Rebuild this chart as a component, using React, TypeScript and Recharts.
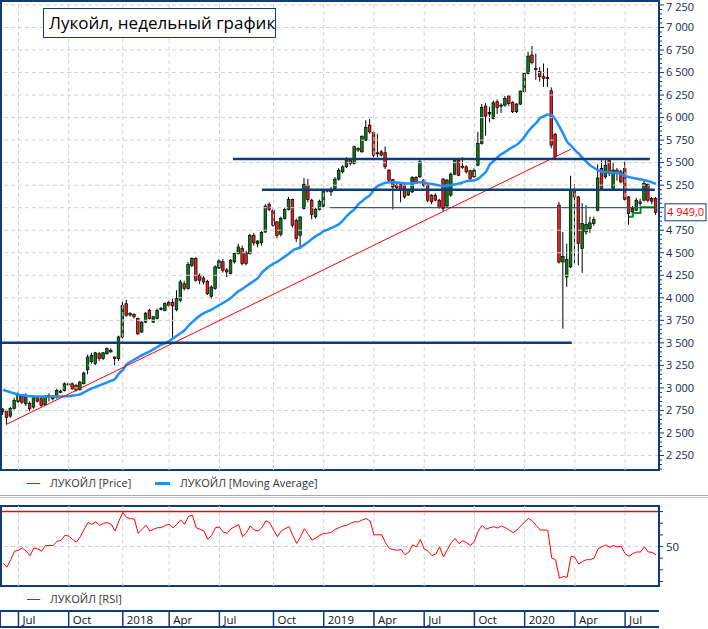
import React from "react";
import {
  ComposedChart,
  Bar,
  Line,
  XAxis,
  YAxis,
  ReferenceLine,
  ReferenceArea,
} from "recharts";

// weekly candles, one entry per week (first week = early June 2017)
const opens = [
  2735, 2750, 2687, 2772, 2850, 2905, 2824, 2830, 2787, 2890, 2880, 2813, 2900, 2880, 2898, 2950, 2972, 3040, 3046, 3030,
  2980, 3046, 3202, 3290, 3270, 3380, 3325, 3380, 3417, 3343, 3324, 3565, 3935, 3810, 3815, 3770, 3620, 3730, 3860, 3730,
  3770, 3870, 3860, 3950, 3950, 3868, 3972, 4157, 4102, 4360, 4435, 4250, 4220, 4183, 4017, 4102, 4330, 4400, 4310, 4270,
  4400, 4490, 4546, 4500, 4490, 4690, 4600, 4610, 4730, 5035, 4972, 4843, 4705, 4880, 4980, 5090, 4860, 4694, 4990, 5250,
  5083, 4900, 4980, 5017, 5190, 5176, 5213, 5317, 5398, 5454, 5528, 5490, 5657, 5620, 5750, 5917, 5835, 5609, 5620, 5610,
  5416, 5310, 5250, 5260, 5250, 5140, 5176, 5336, 5343, 5306, 5250, 5139, 5139, 5083, 5317, 5020, 5140, 5372, 5528, 5460,
  5454, 5410, 5343, 5472, 5713, 6128, 6040, 5990, 6176, 6130, 6139, 6240, 6170, 6065, 6150, 6287, 6491, 6694, 6546, 6510,
  6454, 6445, 6298, 5813, 5028, 4398, 4231, 4343, 5194, 5120, 4546, 4731, 4769, 4824, 4972, 5435, 5343, 5528, 5213, 5417,
  5398, 5435, 5120, 4954, 4972, 5065, 5083, 5257, 5102, 5102,
];
const highs = [
  2775, 2760, 2790, 2890, 2960, 2930, 2940, 2850, 2920, 2910, 2900, 2920, 2940, 2920, 2990, 2980, 3060, 3060, 3060, 3040,
  3080, 3180, 3370, 3390, 3400, 3400, 3400, 3450, 3440, 3350, 3580, 3960, 3980, 3840, 3830, 3780, 3740, 3840, 3880, 3800,
  3880, 3900, 3950, 3970, 3990, 4083, 4200, 4190, 4400, 4450, 4450, 4270, 4240, 4200, 4140, 4360, 4430, 4430, 4330, 4430,
  4500, 4600, 4580, 4520, 4710, 4720, 4640, 4740, 5040, 5060, 4990, 4850, 4900, 5000, 5120, 5100, 4880, 4900, 5330, 5320,
  5100, 5000, 5090, 5200, 5200, 5230, 5340, 5440, 5470, 5560, 5550, 5690, 5670, 5800, 5970, 5983, 5850, 5820, 5640, 5680,
  5430, 5320, 5280, 5270, 5280, 5210, 5350, 5350, 5530, 5320, 5260, 5150, 5160, 5100, 5330, 5320, 5390, 5550, 5540, 5560,
  5470, 5420, 5440, 5842, 6150, 6160, 6120, 6190, 6200, 6160, 6240, 6250, 6180, 6160, 6300, 6500, 6730, 6794, 6710, 6560,
  6600, 6550, 6335, 5830, 5065, 4731, 4600, 5354, 5261, 5130, 5050, 5030, 4900, 4900, 5480, 5528, 5528, 5540, 5500, 5440,
  5420, 5510, 5130, 5020, 5110, 5100, 5300, 5270, 5120, 5120,
];
const lows = [
  2700, 2594, 2670, 2760, 2830, 2820, 2800, 2740, 2770, 2840, 2790, 2800, 2850, 2860, 2880, 2940, 2960, 3030, 2980, 2960,
  2970, 3040, 3150, 3270, 3250, 3300, 3310, 3370, 3390, 3250, 3300, 3550, 3790, 3790, 3770, 3590, 3610, 3720, 3760, 3720,
  3760, 3860, 3850, 3900, 3560, 3850, 3950, 4080, 4090, 4340, 4180, 4150, 4150, 4030, 3990, 4090, 4320, 4280, 4230, 4260,
  4380, 4480, 4360, 4360, 4480, 4580, 4560, 4580, 4720, 4960, 4790, 4660, 4680, 4870, 4970, 4780, 4620, 4546, 4980, 5060,
  4870, 4880, 4970, 5000, 5170, 5130, 5200, 5300, 5380, 5440, 5470, 5480, 5620, 5610, 5740, 5820, 5560, 5560, 5570, 5430,
  5280, 4980, 5200, 5060, 5100, 5130, 5160, 5270, 5330, 5230, 5060, 5040, 5070, 4990, 4960, 5000, 5120, 5360, 5350, 5430,
  5380, 5300, 5330, 5460, 5700, 5800, 5950, 5980, 6040, 6050, 6120, 6130, 6050, 6050, 6140, 6280, 6480, 6590, 6420, 6400,
  6340, 6340, 5660, 5545, 4380, 3657, 4120, 4330, 4380, 4360, 4276, 4700, 4720, 4800, 4960, 5190, 5320, 5350, 5200, 5300,
  5270, 5080, 4810, 4900, 4960, 5020, 5070, 5060, 5040, 4920,
];
const closes = [
  2765, 2672, 2772, 2861, 2920, 2842, 2917, 2768, 2898, 2853, 2805, 2905, 2915, 2900, 2972, 2965, 3046, 3045, 2990, 2975,
  3064, 3165, 3343, 3360, 3390, 3325, 3390, 3435, 3400, 3325, 3565, 3917, 3805, 3825, 3790, 3600, 3730, 3830, 3770, 3790,
  3860, 3880, 3935, 3915, 3910, 3991, 4176, 4102, 4369, 4435, 4195, 4195, 4176, 4046, 4120, 4343, 4410, 4306, 4287, 4417,
  4491, 4565, 4380, 4380, 4690, 4610, 4630, 4724, 5017, 4980, 4806, 4694, 4880, 4980, 5090, 4806, 4657, 4898, 5260, 5090,
  4924, 4983, 5072, 5187, 5195, 5200, 5317, 5416, 5454, 5528, 5490, 5676, 5640, 5794, 5890, 5842, 5583, 5601, 5583, 5454,
  5306, 5231, 5224, 5194, 5120, 5194, 5336, 5287, 5509, 5250, 5083, 5065, 5083, 5000, 4990, 5306, 5372, 5528, 5360, 5450,
  5398, 5324, 5416, 5713, 6113, 6017, 6057, 6165, 6113, 6139, 6213, 6157, 6065, 6150, 6294, 6491, 6683, 6613, 6535, 6454,
  6435, 6440, 5694, 5565, 4398, 4460, 4424, 5194, 5120, 4602, 4824, 4813, 4831, 4870, 5330, 5213, 5472, 5380, 5417, 5380,
  5287, 5094, 4935, 4991, 5083, 5046, 5268, 5083, 5072, 4949,
];
const movingAverage = [
  2980, 2965, 2950, 2938, 2925, 2918, 2912, 2908, 2906, 2905, 2905, 2905, 2906, 2906, 2906, 2906, 2907, 2910, 2915, 2920,
  2930, 2950, 2975, 2995, 3012, 3028, 3045, 3062, 3080, 3100, 3160, 3200, 3260, 3290, 3315, 3340, 3365, 3385, 3405, 3430,
  3455, 3480, 3495, 3520, 3550, 3580, 3610, 3640, 3690, 3730, 3770, 3805, 3830, 3850, 3870, 3895, 3920, 3945, 3970, 4000,
  4040, 4075, 4100, 4130, 4160, 4190, 4220, 4280, 4320, 4350, 4380, 4400, 4430, 4460, 4490, 4525, 4545, 4560, 4590, 4620,
  4655, 4685, 4710, 4740, 4757, 4775, 4795, 4820, 4860, 4910, 4950, 4985, 5040, 5075, 5110, 5140, 5200, 5240, 5260, 5278,
  5282, 5282, 5280, 5275, 5270, 5268, 5272, 5278, 5282, 5278, 5270, 5262, 5255, 5245, 5240, 5242, 5250, 5260, 5268, 5280,
  5295, 5300, 5305, 5320, 5360, 5400, 5480, 5520, 5560, 5595, 5620, 5650, 5675, 5700, 5740, 5790, 5850, 5900, 5940, 5995,
  6015, 6035, 6030, 5975, 5900, 5820, 5730, 5690, 5640, 5600, 5550, 5510, 5470, 5440, 5417, 5400, 5395, 5390, 5388, 5385,
  5370, 5350, 5340, 5330, 5322, 5315, 5305, 5295, 5280, 5265,
];
const rsiValues = [
  35.8, 32.3, 38.7, 46, 46.8, 48.8, 46, 42.2, 48.8, 47.9, 46, 50.9, 50.9, 50.9, 54.6, 55.2, 59.6, 59, 56.1, 53.8,
  58.4, 64.8, 70.6, 69.1, 71.2, 68.2, 70, 70.6, 69.1, 63.3, 72, 79.3, 74.9, 74, 73.5, 61.3, 64.8, 68.2, 63.3, 64.8,
  66.2, 66.2, 68.2, 69.1, 66.2, 69.1, 72.9, 69.1, 75.8, 77, 66.2, 64.8, 63.3, 56.1, 59.6, 66.2, 66.8, 62.4, 61.3, 65.3,
  67.1, 68.8, 58.4, 61.9, 67.7, 64.2, 63.3, 66.2, 72, 70.6, 64.2, 58.4, 63.3, 65.3, 67.1, 59.6, 52.6, 58.4, 65.3, 60.4,
  55.5, 57.5, 59.6, 61.3, 61.3, 62.4, 64.8, 66.2, 67.7, 68.2, 70, 71.2, 71.2, 72.9, 74, 72, 60.1, 60.1, 60.1, 53.2,
  48.3, 47.4, 46.8, 47.4, 43, 45, 51.4, 49.7, 56.1, 48, 46, 42.2, 43.6, 49.7, 41, 47.4, 53.2, 57, 52.6, 54.9,
  53.2, 50.9, 54.6, 63.3, 68.2, 64.8, 66.2, 67.1, 65.9, 67.7, 66.2, 64.2, 61.9, 64.2, 67.7, 71.2, 74, 72, 68.2, 64.2,
  64.2, 63.9, 40.1, 38.7, 22.7, 24.2, 23.6, 41.6, 40.7, 34.9, 37.2, 38.7, 38.7, 40.1, 48, 49.7, 51.4, 49.4, 50.9, 49.7,
  50.3, 43.9, 41.6, 43.9, 45.3, 45.3, 49.7, 45.3, 45, 43,
];
// trailing stop drawn in green over the last weeks
const stopFromWeek = 162;
const stopValues = [4900, 4940, 4940, 5005, 5005, 5005, 5005, 5005];

const priceTickLabels = [
  2250, 2500, 2750, 3000, 3250, 3500, 3750, 4000, 4250, 4500, 4750, 5000, 5250, 5500, 5750, 6000, 6250, 6500, 6750,
  7000, 7250,
];
const rsiTickValues = [20, 30, 40, 50, 60, 70, 80];
const rsiTickLabels = [50];
const rsiUpper = 80;

const quarterLabels = ["Jul", "Oct", "2018", "Apr", "Jul", "Oct", "2019", "Apr", "Jul", "Oct", "2020", "Apr", "Jul"];
const quarterStartWeek = [4, 17, 31, 43, 56, 70, 83, 96, 109, 122, 135, 148, 161];

// support / resistance levels: price and the weeks they span
const levels = [
  { price: 3500, from: -0.6, to: 147.2, thick: true },
  { price: 5540, from: 59.5, to: 167.4, thick: true },
  { price: 5200, from: 67, to: 168.7, thick: true },
  { price: 5000, from: 84.6, to: 169.3, thick: false },
];
const trendStart = { week: 0.8, price: 2594 };
const trendEnd = { week: 147, price: 5650 };

const NAVY = "#0e3c78";
const FONT = "'Open Sans', 'Noto Sans', sans-serif";
const X_DOMAIN: [number, number] = [-0.52, 169.77];
const PRICE_DOMAIN: [number, number] = [2089, 7294];
const RSI_DOMAIN: [number, number] = [16.1, 84.8];

const lastClose = closes[closes.length - 1];

const rows = opens.map((open, i) => ({
  week: i,
  open,
  high: highs[i],
  low: lows[i],
  close: closes[i],
  range: [lows[i], highs[i]],
  ma: movingAverage[i],
  rsi: rsiValues[i],
  stop: i >= stopFromWeek ? stopValues[i - stopFromWeek] : undefined,
}));

const minorPriceTicks: number[] = [];
for (let v = 2100; v <= 7250; v += 50) minorPriceTicks.push(v);

const fmtThousands = (v: number) => `${Math.floor(v / 1000)} ${String(v % 1000).padStart(3, "0")}`;

function Candle(props: any) {
  const { x, y, width, height, payload } = props;
  if (!payload || !height) return null;
  const { open, close, high, low } = payload;
  const cx = x + width / 2;
  const toY = (v: number) => y + ((high - v) / (high - low)) * height;
  const top = toY(Math.max(open, close));
  const bottom = toY(Math.min(open, close));
  const up = close >= open;
  return (
    <g>
      <line x1={cx} x2={cx} y1={y} y2={y + height} stroke="#000" strokeWidth={1} />
      <rect
        x={cx - 1.3}
        y={top}
        width={2.6}
        height={Math.max(bottom - top, 1)}
        fill={up ? "#0a7d16" : "#ee1c1c"}
        stroke="#000"
        strokeWidth={0.7}
      />
    </g>
  );
}

function PriceTick({ x, y, payload }: any) {
  const major = priceTickLabels.includes(payload.value);
  // the last-price badge sits over the label next to it
  const covered = Math.abs(payload.value - lastClose) < 120;
  return (
    <g>
      <line x1={x} x2={x + (major ? 5 : 3)} y1={y} y2={y} stroke={NAVY} strokeWidth={1} />
      {major && !covered && (
        <text x={x + 7} y={Math.max(y, 7)} dy="0.35em" fontSize={11} fontFamily={FONT} fill="#14264a">
          {fmtThousands(payload.value)}
        </text>
      )}
    </g>
  );
}

function RsiTick({ x, y, payload }: any) {
  const labelled = rsiTickLabels.includes(payload.value);
  return (
    <g>
      <line x1={x} x2={x + 4} y1={y} y2={y} stroke={NAVY} strokeWidth={1} />
      {labelled && (
        <text x={x + 7} y={y} dy="0.35em" fontSize={11.5} fontFamily={FONT} fill="#14264a">
          {payload.value}
        </text>
      )}
    </g>
  );
}

function QuarterTick({ x, y, payload, index }: any) {
  return (
    <g>
      <line x1={x} x2={x} y1={y - 1} y2={y + 15} stroke={NAVY} strokeWidth={1.5} />
      <text x={x + 4} y={y + 7} dominantBaseline="central" fontSize={11.5} fontFamily={FONT} fill="#111">
        {quarterLabels[index ?? quarterStartWeek.indexOf(payload.value)]}
      </text>
    </g>
  );
}

function PriceBadge({ viewBox }: any) {
  if (!viewBox) return null;
  const x = viewBox.x + viewBox.width + 6;
  const y = viewBox.y;
  return (
    <g>
      <rect x={x} y={y - 8.5} width={41} height={17} fill="#fff" stroke={NAVY} strokeWidth={1} />
      <text x={x + 2} y={y} dy="0.35em" fontSize={11} fontFamily={FONT} fill="#ff0000">
        {fmtThousands(Math.floor(lastClose))},0
      </text>
    </g>
  );
}

const gridDash = { stroke: "#d2d2d2", strokeDasharray: "4 3", strokeWidth: 1 };

export default function App() {
  return (
    <div
      style={{
        position: "absolute",
        left: 0,
        top: 0,
        width: 708,
        height: 629,
        background: "#fff",
        fontFamily: FONT,
        overflow: "hidden",
      }}
    >
      {/* price panel */}
      <div style={{ position: "absolute", left: 0, top: 0 }}>
        <ComposedChart width={708} height={472} data={rows} margin={{ top: 1, right: 1, bottom: 2, left: 1 }}>
          <XAxis type="number" dataKey="week" domain={X_DOMAIN} hide allowDataOverflow />
          <YAxis
            orientation="right"
            width={48}
            domain={PRICE_DOMAIN}
            ticks={minorPriceTicks}
            interval={0}
            allowDataOverflow
            tickLine={false}
            tickSize={0}
            tickMargin={0}
            axisLine={{ stroke: NAVY, strokeWidth: 2 }}
            tick={(p: any) => <PriceTick {...p} />}
          />
          {priceTickLabels.map((v) => (
            <ReferenceLine key={`h${v}`} y={v} {...gridDash} />
          ))}
          {quarterStartWeek.map((w) => (
            <ReferenceLine key={`v${w}`} x={w} {...gridDash} />
          ))}
          <ReferenceArea
            x1={X_DOMAIN[0]}
            x2={X_DOMAIN[1]}
            y1={PRICE_DOMAIN[0]}
            y2={PRICE_DOMAIN[1]}
            fill="none"
            fillOpacity={0}
            stroke={NAVY}
            strokeWidth={2}
            ifOverflow="visible"
          />
          <Bar dataKey="range" barSize={3} shape={(p: any) => <Candle {...p} />} isAnimationActive={false} />
          <Line
            type="monotone"
            dataKey="ma"
            stroke="#1e8fff"
            strokeWidth={2.5}
            dot={false}
            isAnimationActive={false}
          />
          <Line
            type="stepAfter"
            dataKey="stop"
            stroke="#13893a"
            strokeWidth={2}
            dot={false}
            isAnimationActive={false}
          />
          <ReferenceLine
            segment={[
              { x: trendStart.week, y: trendStart.price },
              { x: trendEnd.week, y: trendEnd.price },
            ]}
            stroke="#ff0000"
            strokeWidth={1}
            ifOverflow="visible"
          />
          {levels.map((l) => (
            <ReferenceLine
              key={`l${l.price}`}
              segment={[
                { x: l.from, y: l.price },
                { x: l.to, y: l.price },
              ]}
              stroke={NAVY}
              strokeWidth={l.thick ? 2.5 : 1}
              ifOverflow="visible"
            />
          ))}
          <ReferenceLine y={lastClose} stroke="none" ifOverflow="visible" label={<PriceBadge />} />
        </ComposedChart>
      </div>

      {/* title */}
      <div
        style={{
          position: "absolute",
          left: 43,
          top: 8,
          width: 226,
          height: 28,
          border: `1.5px solid ${NAVY}`,
          background: "#fff",
          fontSize: 17,
          lineHeight: "28px",
          paddingLeft: 5,
          color: "#000",
          whiteSpace: "nowrap",
        }}
      >
        Лукойл, недельный график
      </div>

      {/* price legend */}
      <div style={{ position: "absolute", left: 27, top: 483, width: 13, height: 1, background: "#ff0000" }} />
      <div style={{ position: "absolute", left: 50, top: 475, fontSize: 11, lineHeight: "16px", color: "#333" }}>
        ЛУКОЙЛ [Price]
      </div>
      <div style={{ position: "absolute", left: 155, top: 482, width: 15, height: 3, background: "#1e8fff" }} />
      <div style={{ position: "absolute", left: 180, top: 475, fontSize: 11, lineHeight: "16px", color: "#333" }}>
        ЛУКОЙЛ [Moving Average]
      </div>

      {/* splitter */}
      <div style={{ position: "absolute", left: 0, top: 495, width: 708, height: 1, background: "#a8a8a8" }} />
      <div style={{ position: "absolute", left: 0, top: 497, width: 708, height: 1, background: "#c4c4c4" }} />

      {/* RSI panel */}
      <div style={{ position: "absolute", left: 0, top: 505 }}>
        <ComposedChart width={708} height={82} data={rows} margin={{ top: 1, right: 1, bottom: 1, left: 1 }}>
          <XAxis type="number" dataKey="week" domain={X_DOMAIN} hide allowDataOverflow />
          <YAxis
            orientation="right"
            width={48}
            domain={RSI_DOMAIN}
            ticks={rsiTickValues}
            interval={0}
            allowDataOverflow
            tickLine={false}
            tickSize={0}
            tickMargin={0}
            axisLine={{ stroke: NAVY, strokeWidth: 2 }}
            tick={(p: any) => <RsiTick {...p} />}
          />
          <ReferenceLine y={50} {...gridDash} />
          {quarterStartWeek.map((w) => (
            <ReferenceLine key={`rv${w}`} x={w} {...gridDash} />
          ))}
          <ReferenceArea
            x1={X_DOMAIN[0]}
            x2={X_DOMAIN[1]}
            y1={RSI_DOMAIN[0]}
            y2={RSI_DOMAIN[1]}
            fill="none"
            fillOpacity={0}
            stroke={NAVY}
            strokeWidth={2}
            ifOverflow="visible"
          />
          <ReferenceLine y={rsiUpper} stroke="#ff0000" strokeWidth={1.5} />
          <Line
            type="linear"
            dataKey="rsi"
            stroke="#ff0000"
            strokeWidth={1}
            dot={false}
            isAnimationActive={false}
          />
        </ComposedChart>
      </div>

      {/* RSI legend */}
      <div style={{ position: "absolute", left: 27, top: 599, width: 13, height: 1, background: "#ff0000" }} />
      <div style={{ position: "absolute", left: 50, top: 591, fontSize: 11, lineHeight: "16px", color: "#333" }}>
        ЛУКОЙЛ [RSI]
      </div>

      {/* time axis strip */}
      <div
        style={{
          position: "absolute",
          left: 0,
          top: 610,
          width: 658,
          height: 14,
          borderTop: `2px solid ${NAVY}`,
          borderBottom: `2px solid ${NAVY}`,
          borderLeft: `1px solid ${NAVY}`,
        }}
      />
      <div style={{ position: "absolute", left: 0, top: 611 }}>
        <ComposedChart width={708} height={17} data={rows} margin={{ top: 0, right: 49, bottom: 0, left: 1 }}>
          <XAxis
            type="number"
            dataKey="week"
            domain={X_DOMAIN}
            allowDataOverflow
            ticks={quarterStartWeek}
            interval={0}
            height={16}
            axisLine={false}
            tickLine={false}
            tickSize={0}
            tickMargin={0}
            tick={(p: any) => <QuarterTick {...p} />}
          />
          <YAxis hide domain={[0, 1]} />
        </ComposedChart>
      </div>
    </div>
  );
}
